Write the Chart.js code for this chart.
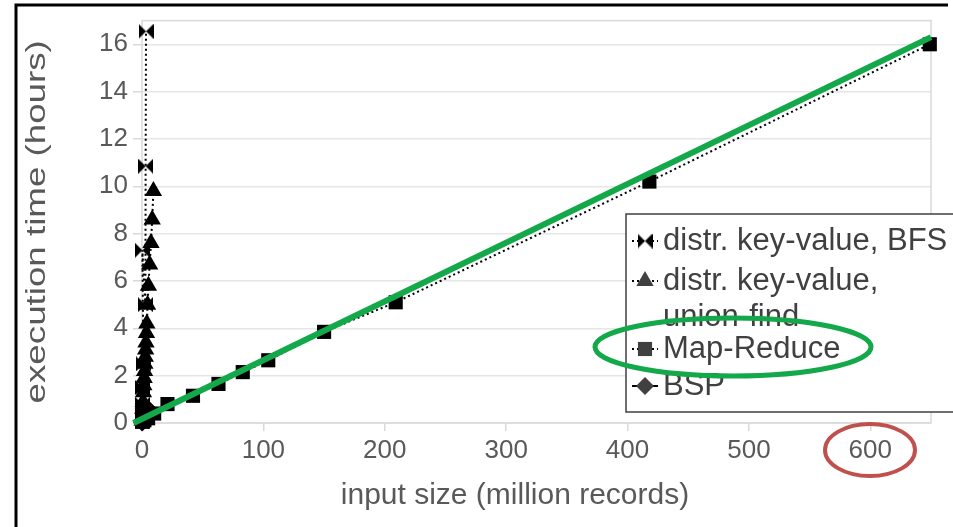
<!DOCTYPE html>
<html>
<head>
<meta charset="utf-8">
<script src="https://cdn.jsdelivr.net/npm/chart.js@4/dist/chart.umd.min.js"></script>
<style>
  html, body { margin: 0; padding: 0; background: #fff; }
  #wrap { width: 953px; height: 527px; position: relative; }
</style>
</head>
<body>
<div id="wrap"><canvas id="chart" width="953" height="527"></canvas></div>
<script>
// values (x = million records, y = hours)
const seriesNames = ['distr. key-value, BFS', 'distr. key-value, union-find', 'Map-Reduce', 'BSP'];

const bfsX = [0.1, 0.2, 0.4, 0.8, 1.2, 0.3, 2.8, 3.0, 3.3];
const bfsY = [0.05, 0.3, 0.8, 1.5, 2.5, 7.3, 5.0, 10.85, 16.55];

const ufX = [0.1, 0.3, 0.6, 0.9, 1.2, 1.5, 1.8, 2.1, 2.4, 2.7, 3.0, 3.3, 3.7, 4.0, 4.6, 5.3, 6.3, 7.4, 8.4, 9.4];
const ufY = [0.1, 0.3, 0.6, 0.9, 1.3, 1.6, 1.9, 2.2, 2.5, 2.8, 3.1, 3.4, 3.8, 4.2, 5.0, 5.8, 6.7, 7.6, 8.6, 9.8];

const mrX = [0.1, 0.5, 1, 2, 5, 10, 21, 42, 63, 83, 104, 150, 209, 418, 649];
const mrY = [0.05, 0.08, 0.1, 0.12, 0.2, 0.4, 0.8, 1.15, 1.65, 2.15, 2.65, 3.85, 5.1, 10.2, 16.0];

const bspX = [0.1, 0.5, 1, 2, 3, 5];
const bspY = [0.02, 0.05, 0.1, 0.2, 0.35, 0.6];

// green highlight line drawn over the chart
const trendX = [-7, 650];
const trendY = [0, 16.3];

const xTicks = [0, 100, 200, 300, 400, 500, 600];
const yTicks = [0, 2, 4, 6, 8, 10, 12, 14, 16];

const FONT = '"Liberation Sans", Arial, sans-serif';
const xTitle = 'input size (million records)';
const yTitle = 'execution time (hours)';

function pairs(xs, ys) {
  return xs.map((x, i) => ({ x: x, y: ys[i] }));
}

// bowtie marker for the BFS series
function makeBowtie(w, h) {
  const c = document.createElement('canvas');
  c.width = w; c.height = h;
  const g = c.getContext('2d');
  g.fillStyle = '#000';
  g.beginPath();
  g.moveTo(0, 0); g.lineTo(w / 2, h / 2); g.lineTo(0, h); g.closePath();
  g.moveTo(w, 0); g.lineTo(w / 2, h / 2); g.lineTo(w, h); g.closePath();
  g.fill();
  return c;
}
const bowtie = makeBowtie(15, 15);

const series = [
  { label: seriesNames[0], data: pairs(bfsX, bfsY), pointStyle: bowtie, pointRadius: 8, dash: [2, 3] },
  { label: seriesNames[1], data: pairs(ufX, ufY), pointStyle: 'triangle', pointRadius: 10, dash: [2, 3] },
  { label: seriesNames[2], data: pairs(mrX, mrY), pointStyle: 'rect', pointRadius: 10, dash: [2, 3] },
  { label: seriesNames[3], data: pairs(bspX, bspY), pointStyle: 'rectRot', pointRadius: 9, dash: [] }
];

const datasets = series.map(s => ({
  label: s.label,
  data: s.data,
  borderColor: '#000',
  backgroundColor: '#000',
  borderWidth: 2,
  borderDash: s.dash,
  pointStyle: s.pointStyle,
  pointRadius: s.pointRadius,
  pointBorderWidth: 0,
  showLine: true,
  clip: false,
  order: 2
}));

datasets.push({
  label: 'highlight',
  data: pairs(trendX, trendY),
  borderColor: '#13a84a',
  borderWidth: 6,
  pointRadius: 0,
  showLine: true,
  clip: false,
  order: 1
});

// frame, plot border, axis titles, legend box and the hand-drawn ellipses
const decorations = {
  id: 'decorations',
  beforeDatasetsDraw(chart) {
    const { ctx, chartArea: a } = chart;
    ctx.save();
    ctx.strokeStyle = '#d9d9d9';
    ctx.lineWidth = 1.5;
    ctx.strokeRect(a.left, a.top, a.right - a.left, a.bottom - a.top);

    ctx.fillStyle = '#595959';
    ctx.textAlign = 'center';
    ctx.textBaseline = 'middle';
    ctx.font = '30px ' + FONT;
    ctx.fillText(xTitle, 515, 496);

    // y title, stretched along its length like the original
    ctx.translate(38, (a.top + a.bottom) / 2);
    ctx.rotate(-Math.PI / 2);
    ctx.scale(1.36, 1);
    ctx.font = '27px ' + FONT;
    ctx.fillText(yTitle, 0, 0);
    ctx.restore();
  },
  afterDraw(chart) {
    const ctx = chart.ctx;
    ctx.save();

    // outer frame (top and left edges only)
    ctx.strokeStyle = '#000';
    ctx.lineWidth = 3;
    ctx.beginPath();
    ctx.moveTo(16, 527);
    ctx.lineTo(16, 5);
    ctx.lineTo(948, 5);
    ctx.stroke();

    // legend box
    ctx.fillStyle = '#fff';
    ctx.fillRect(626, 214, 340, 198);
    ctx.strokeStyle = '#404040';
    ctx.lineWidth = 1.5;
    ctx.strokeRect(626, 214, 340, 198);

    const rows = [
      { y: 241, lines: ['distr. key-value, BFS'] },
      { y: 281, lines: ['distr. key-value,', 'union-find'] },
      { y: 349, lines: ['Map-Reduce'] },
      { y: 386, lines: ['BSP'] }
    ];
    ctx.font = '31px ' + FONT;
    ctx.textBaseline = 'middle';
    rows.forEach((r, i) => {
      const ds = datasets[i];
      ctx.strokeStyle = '#000';
      ctx.lineWidth = 2;
      ctx.setLineDash(ds.borderDash.length ? [2, 3] : []);
      ctx.beginPath();
      ctx.moveTo(632, r.y);
      ctx.lineTo(658, r.y);
      ctx.stroke();
      ctx.setLineDash([]);
      Chart.helpers.drawPoint(ctx, {
        pointStyle: ds.pointStyle, radius: ds.pointRadius, borderWidth: 0, rotation: 0
      }, 645, r.y);
      ctx.fillStyle = '#404040';
      r.lines.forEach((t, k) => ctx.fillText(t, 663, r.y + k * 36));
    });
    // bottom of "union-find" is hidden under the next entry
    ctx.fillStyle = '#fff';
    ctx.fillRect(660, 327, 300, 9);

    // green ellipse round the Map-Reduce entry
    ctx.strokeStyle = '#13a84a';
    ctx.lineWidth = 5;
    ctx.beginPath();
    ctx.ellipse(733, 347, 138, 29, 0, 0, Math.PI * 2);
    ctx.stroke();

    // red ellipse round the 600 tick
    ctx.strokeStyle = '#c0504d';
    ctx.lineWidth = 4;
    ctx.beginPath();
    ctx.ellipse(870, 450, 45, 26, 0, 0, Math.PI * 2);
    ctx.stroke();

    ctx.restore();
  }
};

new Chart(document.getElementById('chart').getContext('2d'), {
  type: 'scatter',
  data: { datasets: datasets },
  options: {
    responsive: false,
    animation: false,
    layout: { padding: { top: 20, right: 22, left: 0, bottom: 0 } },
    plugins: {
      legend: { display: false },
      tooltip: { enabled: false }
    },
    scales: {
      x: {
        type: 'linear',
        min: 0,
        max: 650,
        afterFit: s => { s.height = 104; },
        afterBuildTicks: s => { s.ticks = xTicks.map(v => ({ value: v })); },
        grid: { drawOnChartArea: false, drawTicks: true, tickLength: 8, color: '#d9d9d9', lineWidth: 1.5 },
        border: { display: false },
        ticks: { color: '#595959', font: { family: FONT, size: 26 }, padding: 4, maxRotation: 0 },
        title: { display: false }
      },
      y: {
        type: 'linear',
        min: 0,
        max: 17,
        afterFit: s => { s.width = 142; },
        afterBuildTicks: s => { s.ticks = yTicks.map(v => ({ value: v })); },
        grid: { color: '#e6e6e6', lineWidth: 1.5, tickLength: 9, tickColor: '#d9d9d9' },
        border: { display: false },
        ticks: { color: '#595959', font: { family: FONT, size: 26 }, padding: 5 },
        title: { display: false }
      }
    }
  },
  plugins: [decorations]
});
</script>
</body>
</html>
